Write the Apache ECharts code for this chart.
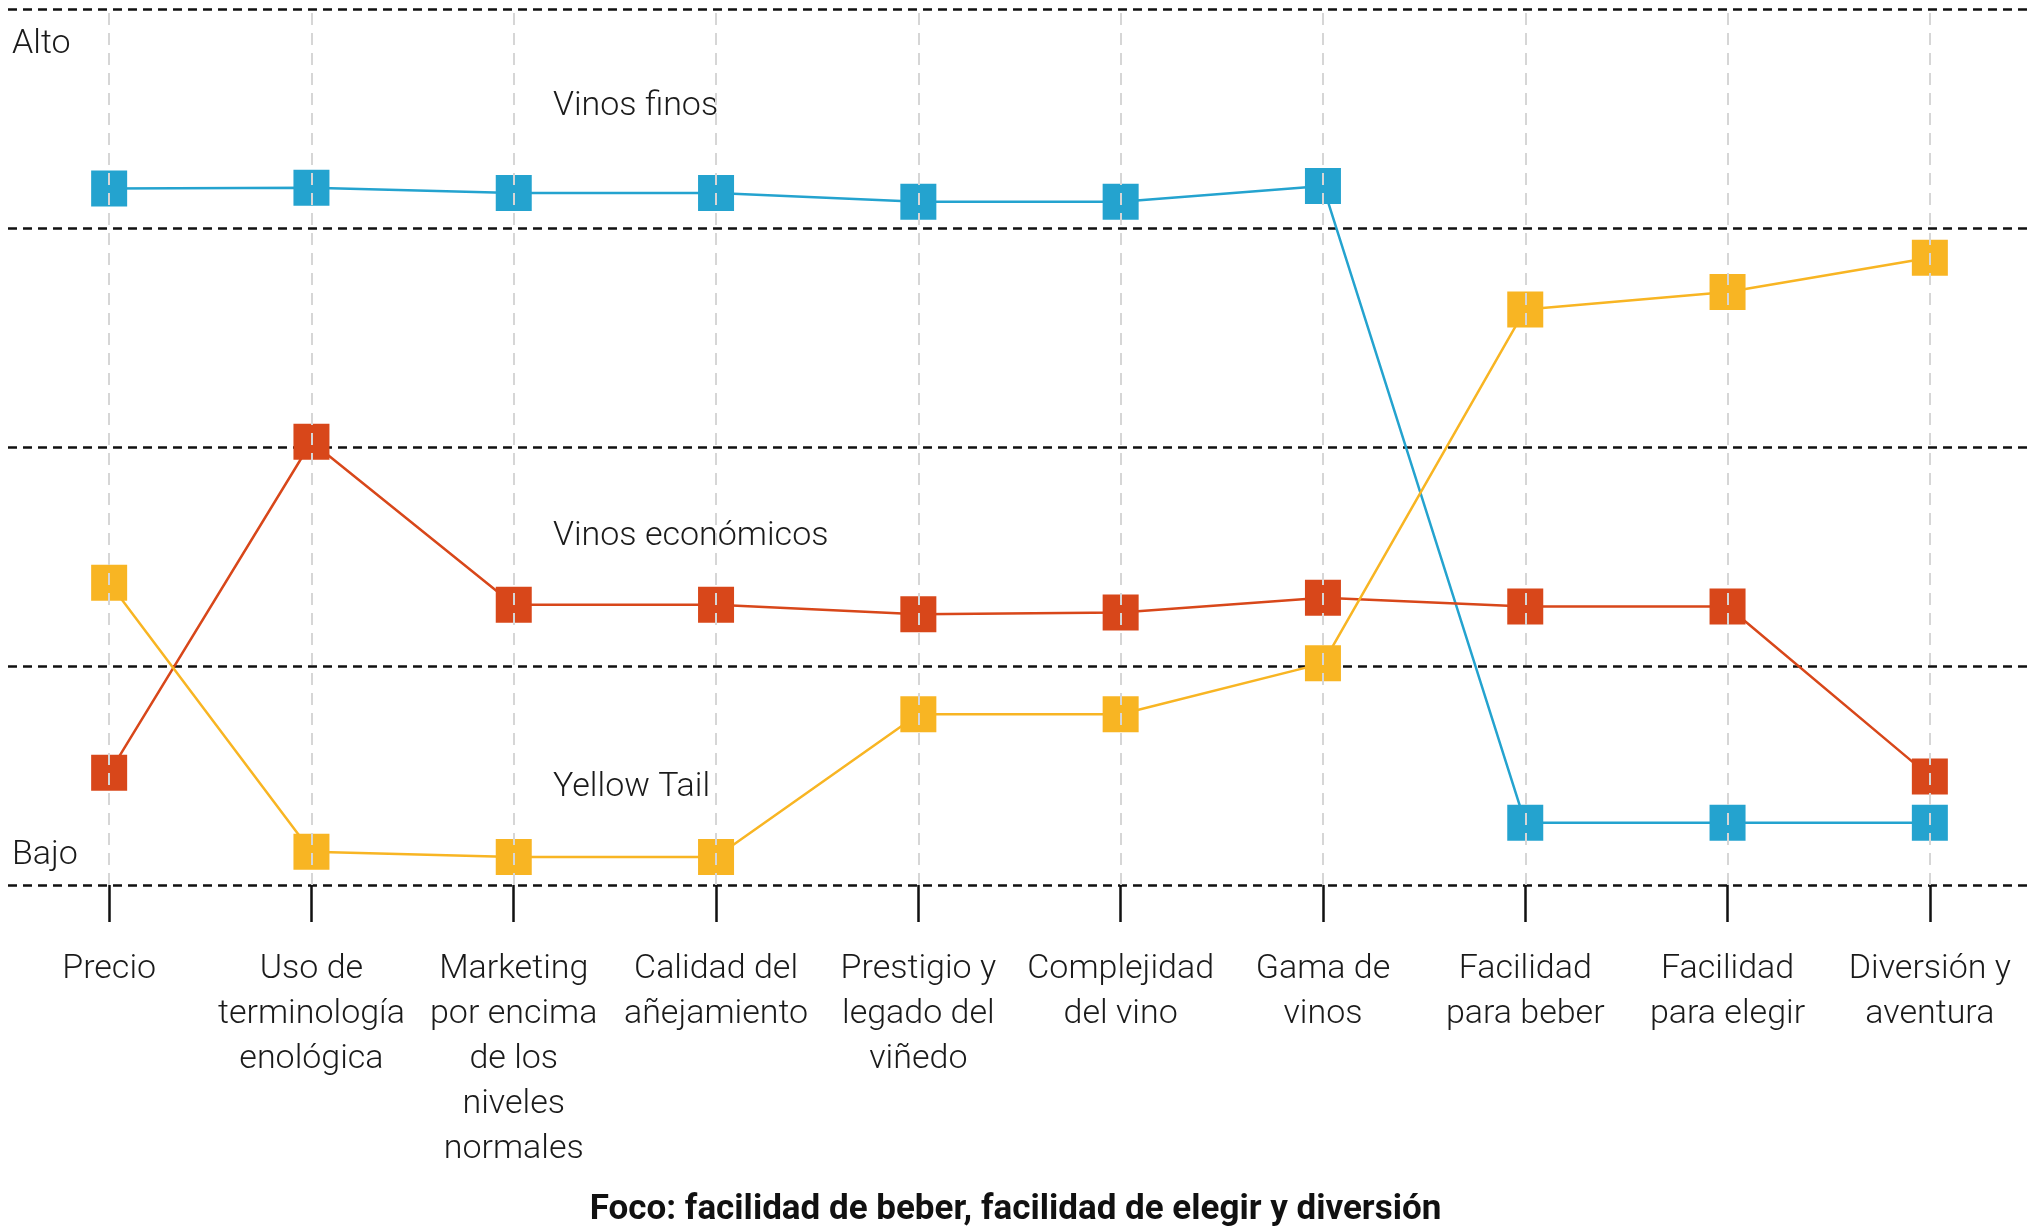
<!DOCTYPE html>
<html>
<head>
<meta charset="utf-8">
<script src="https://cdn.jsdelivr.net/npm/echarts@6/dist/echarts.min.js"></script>
<style>
  html, body { margin: 0; padding: 0; background: #fff; }
  #chart { width: 2031px; height: 1232px; }
</style>
</head>
<body>
<div id="chart"></div>
<script>
// ======================
// DATA
// ======================

const categories = [
    'Precio',
    'Uso de\nterminología\nenológica',
    'Marketing\npor encima\nde los\nniveles\nnormales',
    'Calidad del\nañejamiento',
    'Prestigio y\nlegado del\nviñedo',
    'Complejidad\ndel vino',
    'Gama de\nvinos',
    'Facilidad\npara beber',
    'Facilidad\npara elegir',
    'Diversión y\naventura',
];

// 0 = Bajo, 100 = Alto
const vinosFinos = [79.5, 79.6, 79.0, 79.0, 78.0, 78.0, 79.8, 7.1, 7.1, 7.1];
const vinosEconomicos = [12.8, 50.6, 32.0, 32.0, 30.9, 31.1, 32.8, 31.8, 31.8, 12.4];
const yellowTail = [34.5, 3.8, 3.2, 3.2, 19.5, 19.5, 25.3, 65.7, 67.7, 71.6];

const seriesNames = ['Vinos finos', 'Vinos económicos', 'Yellow Tail'];
const levelLabels = ['Alto', 'Bajo'];
const chartTitle = 'Foco: facilidad de beber, facilidad de elegir y diversión';

// ======================
// STYLE
// ======================

const FONT = 'Roboto, "Liberation Sans", sans-serif';
const colors = {
    finos: '#24a3cf',
    economicos: '#d8471a',
    yellow: '#f8b523',
};

function lineSeries(name, data, color) {
    return {
        name,
        type: 'line',
        data,
        symbol: 'rect',
        symbolSize: 36,
        z: 2,
        lineStyle: { color, width: 2.5 },
        itemStyle: { color },
        emphasis: { disabled: true },
    };
}

const chart = echarts.init(document.getElementById('chart'), null, { renderer: 'canvas' });

const textStyle = {
    fontFamily: FONT,
    fontWeight: 300,
    fontSize: 34,
    fill: '#1a1a1a',
    verticalAlign: 'middle',
};

chart.setOption({
    animation: false,
    title: {
        text: chartTitle,
        left: 'center',
        top: 1188,
        textStyle: {
            fontFamily: FONT,
            fontWeight: 'bold',
            fontSize: 35,
            color: '#111',
        },
    },
    grid: {
        left: 8,
        right: -4,
        top: 9,
        bottom: 347,
    },
    xAxis: {
        type: 'category',
        data: categories,
        boundaryGap: true,
        axisLine: { show: false },
        axisTick: {
            show: true,
            alignWithLabel: true,
            length: 37,
            lineStyle: { color: '#111', width: 2.5 },
        },
        axisLabel: {
            interval: 0,
            margin: 62,
            color: '#1a1a1a',
            fontFamily: FONT,
            fontWeight: 300,
            fontSize: 34,
            lineHeight: 45,
        },
        splitLine: { show: false },
    },
    yAxis: {
        type: 'value',
        min: 0,
        max: 100,
        interval: 25,
        axisLine: { show: false },
        axisTick: { show: false },
        axisLabel: { show: false },
        splitLine: {
            show: true,
            lineStyle: { color: '#111', type: [9, 6], width: 2.5 },
        },
    },
    graphic: [
        { type: 'text', x: 12, y: 44, style: Object.assign({ text: levelLabels[0] }, textStyle) },
        { type: 'text', x: 12, y: 855, style: Object.assign({ text: levelLabels[1] }, textStyle) },
        { type: 'text', x: 553, y: 106, style: Object.assign({ text: seriesNames[0] }, textStyle) },
        { type: 'text', x: 553, y: 536, style: Object.assign({ text: seriesNames[1] }, textStyle) },
        { type: 'text', x: 553, y: 787, style: Object.assign({ text: seriesNames[2] }, textStyle) },
    ],
    series: [
        lineSeries(seriesNames[0], vinosFinos, colors.finos),
        lineSeries(seriesNames[1], vinosEconomicos, colors.economicos),
        lineSeries(seriesNames[2], yellowTail, colors.yellow),
        {
            // vertical guides through each category, drawn above the markers
            name: 'guides',
            type: 'line',
            data: [],
            z: 10,
            markLine: {
                silent: true,
                symbol: 'none',
                z: 10,
                label: { show: false },
                lineStyle: { color: '#d6d6d6', type: [12, 8], width: 2 },
                data: categories.map(c => ({ xAxis: c })),
            },
        },
    ],
});
</script>
</body>
</html>
